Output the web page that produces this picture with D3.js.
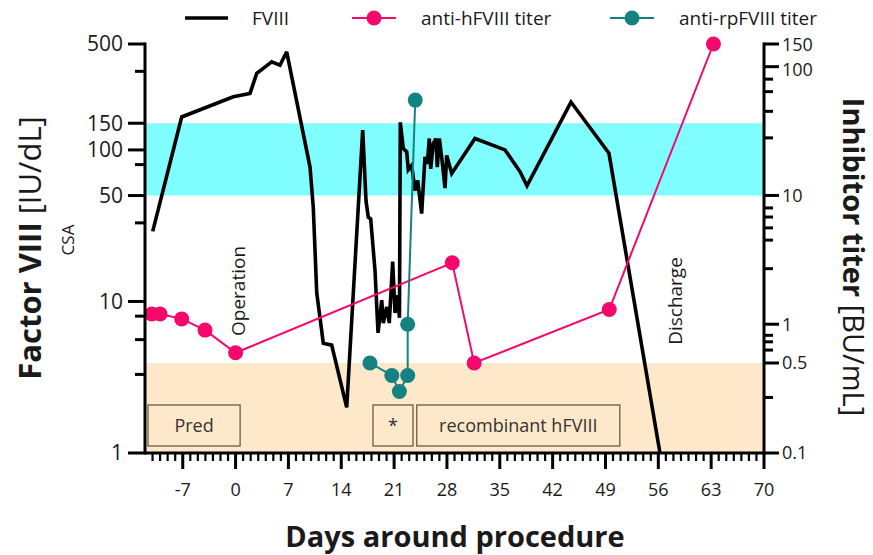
<!DOCTYPE html>
<html><head><meta charset="utf-8">
<script src="https://cdn.jsdelivr.net/npm/d3@7"></script>
<style>body{margin:0;background:#fff;} svg{display:block;font-family:"Open Sans",sans-serif;}</style>
</head><body><svg id="c" width="873" height="555"></svg>
<script>
// ---------------- data ----------------
const fviiiDays = [-10.98,-7.14,-0.30,1.91,2.80,3.67,4.78,5.88,6.77,9.86,10.29,10.75,11.62,12.73,14.72,16.84,17.28,17.58,17.9,18.47,18.87,19.36,19.57,20.02,20.36,20.81,21.12,21.45,21.71,21.82,22.22,22.67,22.88,23.33,23.77,24.12,24.65,25.09,25.4,25.66,25.85,26.19,26.55,26.72,26.99,27.3,27.74,27.97,28.63,31.71,35.69,37.67,38.6,44.43,49.46,56.22];
const fviiiValues = [29,165,224,236,320,345,381,362,444,77,42,11.4,5.3,5.15,2.0,135,46,36,35,16,6.2,10.2,7.2,9.2,7.2,18.3,8.4,11,7.8,152,102,97,74,79,54,63,38,90,81,119,75,110,119,77,119,90,56,92,70,119,100,72,58,207,95,1];
const hTiterDays = [-11.1,-10.0,-7.14,-4.05,0,28.7,31.6,49.5,63.3];
const hTiterValues = [1.2,1.2,1.1,0.9,0.6,3.0,0.5,1.3,150];
const rpTiterDays = [17.8,20.7,21.7,22.8,22.8,23.8];
const rpTiterValues = [0.5,0.4,0.3,0.4,1.0,55];
const xTickValues = [-7,0,7,14,21,28,35,42,49,56,63,70];
const leftTickValues = [1,10,50,100,150,500];
const leftMinorTicks = [3.3,5.6,8,33,80,330];
const rightTickValues = [0.1,0.5,1,10,100,150];
const rightMinorTicks = [0.27,0.63,0.73,0.82,2.7,4.5,5.6,6.8,8,28,45,64,80];
const fviiiNormalRange = [50,150];
const titerLowRange = [0.1,0.5];
const treatmentLabels = ["Pred","*","recombinant hFVIII"];
const treatmentStart = [-11.6,18.2,24.0];
const treatmentEnd = [0.6,23.5,50.9];
const eventLabels = ["Operation","Discharge"];
const eventDays = [0.3,58.3];
const legendLabels = ["FVIII","anti-hFVIII titer","anti-rpFVIII titer"];

// ---------------- layout ----------------
const svg = d3.select("#c");
const X0 = 145, X1 = 764, Y0 = 453, Y1 = 44;
const x = d3.scaleLinear().domain([-12,70]).range([X0,X1]);
const yL = d3.scaleLog().domain([1,500]).range([Y0,Y1]);
const yR = d3.scaleLog().domain([0.1,150]).range([Y0,Y1]);
const PINK = "#f5086b", TEAL = "#148281", CYAN = "#80fdff", TAN = "#fde8c9";
const TXT = "#1a1a1a";

// bands
svg.append("rect").attr("x",X0).attr("width",X1-X0)
  .attr("y",yL(fviiiNormalRange[1])).attr("height",yL(fviiiNormalRange[0])-yL(fviiiNormalRange[1]))
  .attr("fill",CYAN);
svg.append("rect").attr("x",X0).attr("width",X1-X0)
  .attr("y",yR(titerLowRange[1])).attr("height",yR(titerLowRange[0])-yR(titerLowRange[1]))
  .attr("fill",TAN);

// treatment boxes
const tb = svg.append("g");
treatmentLabels.forEach((lab,i)=>{
  const xa = x(treatmentStart[i]), xb = x(treatmentEnd[i]);
  tb.append("rect").attr("x",xa).attr("y",405).attr("width",xb-xa).attr("height",41)
    .attr("fill",TAN).attr("stroke","#6b5a48").attr("stroke-width",1.3);
  tb.append("text").attr("x",(xa+xb)/2).attr("y",425.5).attr("dy","0.35em")
    .attr("text-anchor","middle").attr("font-size",18).attr("fill","#333").text(lab);
});

// event labels
eventLabels.forEach((lab,i)=>{
  const cx = x(eventDays[i]), cy = i===0 ? 291 : 301;
  svg.append("text").attr("transform",`translate(${cx},${cy}) rotate(-90)`)
    .attr("text-anchor","middle").attr("dy","0.35em").attr("font-size",19).attr("fill",TXT).text(lab);
});
svg.append("text").attr("transform","translate(68,240) rotate(-90)")
  .attr("text-anchor","middle").attr("dy","0.35em").attr("font-size",17).attr("fill",TXT).text("CSA");

// FVIII line
const fData = fviiiDays.map((d,i)=>[d,fviiiValues[i]]);
svg.append("path").datum(fData)
  .attr("d",d3.line().x(d=>x(d[0])).y(d=>yL(d[1])))
  .attr("fill","none").attr("stroke","#000").attr("stroke-width",3.6).attr("stroke-linejoin","miter").attr("stroke-miterlimit",3);

// titer lines
function titer(days, vals, color){
  const data = days.map((d,i)=>[d,vals[i]]);
  const g = svg.append("g");
  g.append("path").datum(data).attr("d",d3.line().x(d=>x(d[0])).y(d=>yR(d[1])))
    .attr("fill","none").attr("stroke",color).attr("stroke-width",2);
  g.selectAll("circle").data(data).join("circle")
    .attr("cx",d=>x(d[0])).attr("cy",d=>yR(d[1])).attr("r",7.5).attr("fill",color);
}
titer(hTiterDays,hTiterValues,PINK);
titer(rpTiterDays,rpTiterValues,TEAL);

// axes
const ax = svg.append("g").attr("fill","none").attr("stroke","#000");
// left axis
ax.append("line").attr("x1",X0).attr("x2",X0).attr("y1",Y1-1.5).attr("y2",Y0+1.5).attr("stroke-width",3);
leftTickValues.forEach(v=>{
  ax.append("line").attr("x1",X0-17).attr("x2",X0).attr("y1",yL(v)).attr("y2",yL(v)).attr("stroke-width",3);
  svg.append("text").attr("x",X0-22).attr("y",yL(v)).attr("dy","0.35em").attr("text-anchor","end")
    .attr("font-size",21).attr("fill",TXT).text(v);
});
leftMinorTicks.forEach(v=>{
  ax.append("line").attr("x1",X0-10).attr("x2",X0).attr("y1",yL(v)).attr("y2",yL(v)).attr("stroke-width",3);
});
// right axis
ax.append("line").attr("x1",X1).attr("x2",X1).attr("y1",Y1-1.5).attr("y2",Y0+1.5).attr("stroke-width",3);
rightTickValues.forEach(v=>{
  ax.append("line").attr("x1",X1).attr("x2",X1+15).attr("y1",yR(v)).attr("y2",yR(v)).attr("stroke-width",3);
});
rightTickValues.forEach(v=>{
  const yy = v===150 ? yR(v)+1 : (v===100 ? yR(v)+3.5 : yR(v));
  svg.append("text").attr("x",X1+18).attr("y",yy).attr("dy","0.35em").attr("text-anchor","start")
    .attr("font-size",18).attr("fill",TXT).text(v);
});
rightMinorTicks.forEach(v=>{
  ax.append("line").attr("x1",X1).attr("x2",X1+9).attr("y1",yR(v)).attr("y2",yR(v)).attr("stroke-width",3);
});
// x axis
ax.append("line").attr("x1",X0).attr("x2",X1+1.5).attr("y1",Y0).attr("y2",Y0).attr("stroke-width",3);
d3.range(-11,70).forEach(d=>{
  if (xTickValues.includes(d)) return;
  ax.append("line").attr("x1",x(d)).attr("x2",x(d)).attr("y1",Y0).attr("y2",Y0+8).attr("stroke-width",2.2);
});
xTickValues.forEach(d=>{
  ax.append("line").attr("x1",x(d)).attr("x2",x(d)).attr("y1",Y0).attr("y2",Y0+16).attr("stroke-width",3);
  svg.append("text").attr("x",x(d)).attr("y",490).attr("dy","0.35em").attr("text-anchor","middle")
    .attr("font-size",18).attr("fill",TXT).text(d<0? "-"+Math.abs(d) : d);
});

// axis titles
svg.append("text").attr("x",455).attr("y",537).attr("dy","0.35em").attr("text-anchor","middle")
  .attr("font-size",29).attr("font-weight","bold").attr("fill",TXT).text("Days around procedure");
const lt = svg.append("text").attr("transform","translate(30,248) rotate(-90)").attr("text-anchor","middle")
  .attr("dy","0.35em").attr("font-size",31).attr("fill",TXT);
lt.append("tspan").attr("font-weight","bold").text("Factor VIII ");
lt.append("tspan").text("[IU/dL]");
const rt = svg.append("text").attr("transform","translate(853,257) rotate(90)").attr("text-anchor","middle")
  .attr("dy","0.35em").attr("font-size",29).attr("fill",TXT);
rt.append("tspan").attr("font-weight","bold").text("Inhibitor titer ");
rt.append("tspan").text("[BU/mL]");

// legend
const lg = svg.append("g");
lg.append("line").attr("x1",185).attr("x2",228).attr("y1",18).attr("y2",18).attr("stroke","#000").attr("stroke-width",3.5);
lg.append("text").attr("x",252).attr("y",18).attr("dy","0.35em").attr("font-size",19).attr("fill",TXT).text(legendLabels[0]);
[[352,PINK,421,1],[610,TEAL,679,2]].forEach(([lx,c,tx,i])=>{
  lg.append("line").attr("x1",lx).attr("x2",lx+44).attr("y1",18).attr("y2",18).attr("stroke",c).attr("stroke-width",2);
  lg.append("circle").attr("cx",lx+22).attr("cy",18).attr("r",7.5).attr("fill",c);
  lg.append("text").attr("x",tx).attr("y",18).attr("dy","0.35em").attr("font-size",19).attr("fill",TXT).text(legendLabels[i]);
});
</script></body></html>
